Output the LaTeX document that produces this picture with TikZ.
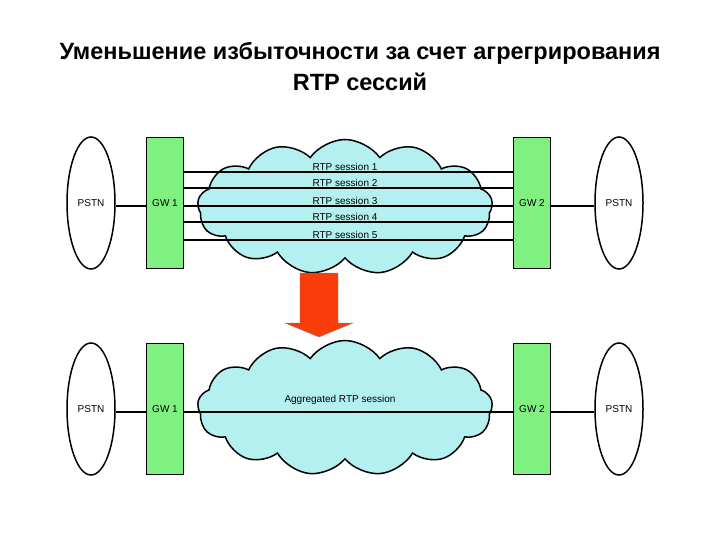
\documentclass[tikz,border=0pt]{standalone}
\usepackage{fontspec}
\setmainfont{Liberation Sans}
\usetikzlibrary{shapes.symbols,shapes.geometric}
\definecolor{gw}{RGB}{128,240,128}
\definecolor{cl}{RGB}{180,240,240}
\definecolor{ar}{RGB}{250,60,10}
\begin{document}
\begin{tikzpicture}[x=1pt,y=-1pt,
  pstn/.style={draw,line width=1.5pt,ellipse,minimum width=48pt,minimum height=132pt,font=\fontsize{10}{11}\selectfont,inner sep=0pt},
  gwb/.style={draw,line width=1.5pt,fill=gw,minimum width=37pt,minimum height=131pt,font=\fontsize{10}{11}\selectfont,inner sep=0pt},
  cloudn/.style={draw,line width=1.5pt,fill=cl,cloud,cloud puffs=13,cloud puff arc=110,aspect=2.2,minimum width=295pt,minimum height=135pt,inner sep=0pt},
  lnk/.style={line width=1.8pt},
  lbl/.style={font=\fontsize{10}{11}\selectfont,inner sep=1pt,anchor=south}]
\useasboundingbox (0,0) rectangle (720,540);
\node[font=\bfseries\fontsize{23.5}{31}\selectfont,align=center] (title) at (360,66) {Уменьшение избыточности за счет агрегрирования\\RTP сессий};
% top
\node[cloudn] (c1) at (345,207) {};
\node[pstn] (p1) at (91,203) {PSTN};
\node[gwb] (g1) at (165,203) {GW 1};
\node[gwb] (g2) at (532,203) {GW 2};
\node[pstn] (p2) at (619,203) {PSTN};
\draw[lnk] (p1.east |- 0,206) -- (g1.west |- 0,206);
\draw[lnk] (g2.east |- 0,206) -- (p2.west |- 0,206);
\foreach \y/\n in {172/1,188/2,206/3,222/4,240/5}{
  \draw[lnk] (g1.east |- 0,\y) -- (g2.west |- 0,\y);
  \node[lbl] (s\n) at (345,\y) {RTP session \n};
}
% arrow
\coordinate (at) at (319,337);
\filldraw[fill=ar,draw=black!50] (300,273) -- (338,273) -- (338,323) -- (353,323) -- (at) -- (285,323) -- (300,323) -- cycle;
% bottom
\node[cloudn] (c2) at (345,408) {};
\node[pstn] (p3) at (91,409) {PSTN};
\node[gwb] (g3) at (165,409) {GW 1};
\node[gwb] (g4) at (532,409) {GW 2};
\node[pstn] (p4) at (619,409) {PSTN};
\draw[lnk] (p3.east |- 0,412) -- (g3.west |- 0,412);
\draw[lnk] (g4.east |- 0,412) -- (p4.west |- 0,412);
\draw[line width=2.5pt] (g3.east |- 0,412) -- (g4.west |- 0,412);
\node[lbl] (agg) at (340,406) {Aggregated RTP session};
\end{tikzpicture}
\end{document}
